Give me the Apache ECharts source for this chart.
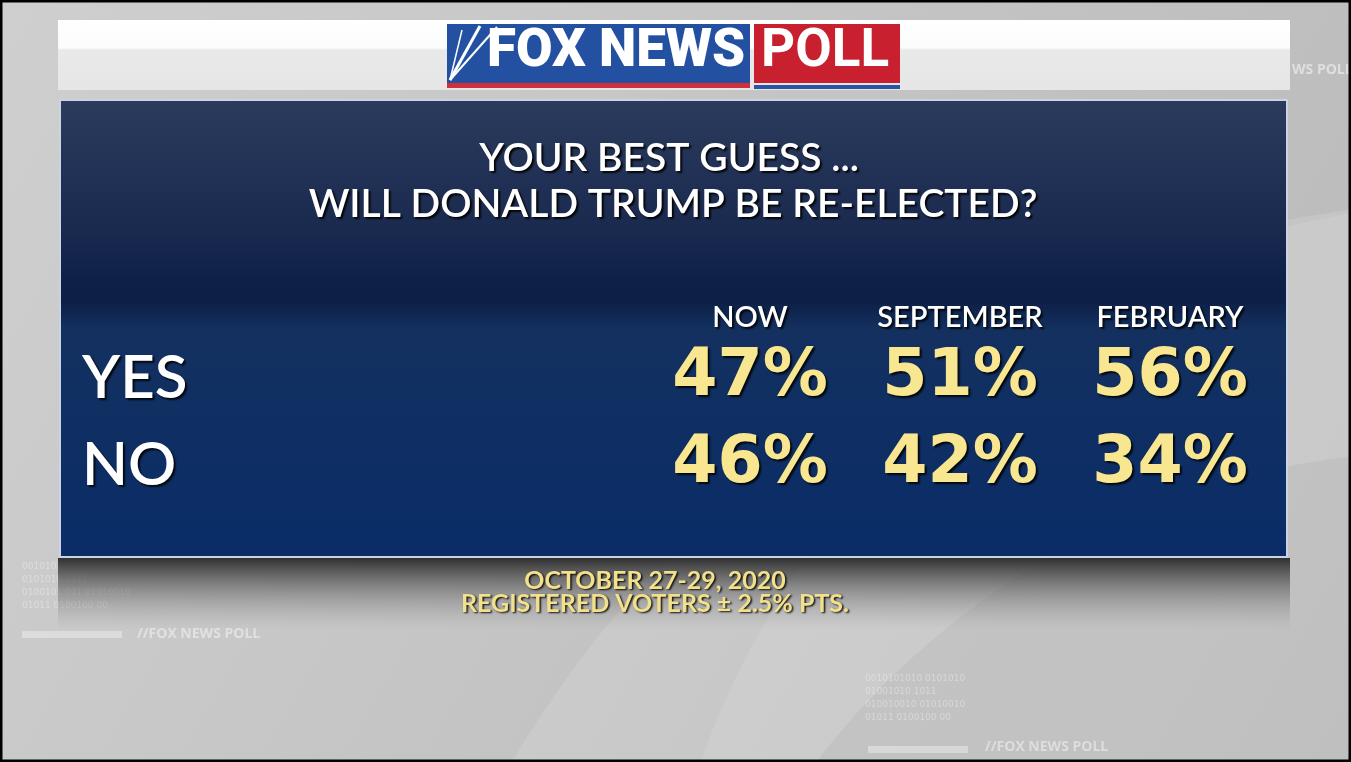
<!DOCTYPE html>
<html>
<head>
<meta charset="utf-8">
<script src="https://cdn.jsdelivr.net/npm/echarts@6/dist/echarts.min.js"></script>
<style>html,body{margin:0;padding:0;background:#c6c6c6;}#chart{width:1351px;height:762px;}</style>
</head>
<body>
<div id="chart"></div>
<script>
var columns = ['NOW', 'SEPTEMBER', 'FEBRUARY'];
var rows = ['YES', 'NO'];
var yesValues = [47, 51, 56];
var noValues = [46, 42, 34];
var titleLines = ['YOUR BEST GUESS ...', 'WILL DONALD TRUMP BE RE-ELECTED?'];
var footerLines = ['OCTOBER 27-29, 2020', 'REGISTERED VOTERS \u00B1 2.5% PTS.'];

var seriesData = [];
[yesValues, noValues].forEach(function (vals, r) {
  vals.forEach(function (v, c) { seriesData.push([columns[c], rows[r], v]); });
});

var chart = echarts.init(document.getElementById('chart'), null, {renderer: 'canvas'});
var shadow = {textShadowColor: 'rgba(0,0,0,0.85)', textShadowBlur: 2, textShadowOffsetX: 2, textShadowOffsetY: 2};

function centerText(txt, cx, top, font, fill, off, ls) {
  return {type: 'text', z: 5, x: cx, y: top, style: {text: txt, fill: fill, font: font, textAlign: 'center', textVerticalAlign: 'top',
    letterSpacing: ls || 0,
    textShadowColor: 'rgba(0,0,0,0.9)', textShadowOffsetX: off, textShadowOffsetY: off, textShadowBlur: 2}};
}

var graphics = [
  {type: 'rect', z: -10, shape: {x: 0, y: 0, width: 1351, height: 762},
    style: {fill: new echarts.graphic.LinearGradient(0, 0, 1, 1, [
      {offset: 0, color: '#cfcfcf'}, {offset: 0.5, color: '#c4c4c4'}, {offset: 1, color: '#b9b9b9'}])}},
  {type: 'circle', z: -9, shape: {cx: 1500, cy: 1350, r: 1150}, style: {fill: 'rgba(255,255,255,0.12)'}},
  {type: 'circle', z: -9, shape: {cx: 1450, cy: 1250, r: 800}, style: {fill: 'rgba(120,120,120,0.12)'}},
  {type: 'circle', z: -9, shape: {cx: 1500, cy: 1050, r: 850}, style: {fill: 'rgba(255,255,255,0.10)'}},
  {type: 'text', z: -8, left: 137, top: 627, style: {text: '//FOX NEWS POLL', fill: 'rgba(255,255,255,0.45)', font: 'bold 14px "Open Sans"'}},
  {type: 'text', z: -8, left: 985, top: 740, style: {text: '//FOX NEWS POLL', fill: 'rgba(255,255,255,0.45)', font: 'bold 14px "Open Sans"'}},
  {type: 'text', z: -8, left: 1292, top: 63, style: {text: 'WS POLL', fill: 'rgba(255,255,255,0.5)', font: 'bold 14px "Open Sans"'}},
  {type: 'text', z: -8, left: 22, top: 560, style: {text: '0010101\n0101010 1011\n0100101 001 01010010\n01011 0100100 00', fill: 'rgba(255,255,255,0.35)', font: '9px "DejaVu Sans"', lineHeight: 13}},
  {type: 'text', z: -8, left: 865, top: 672, style: {text: '0010101010 0101010\n01001010 1011\n010010010 01010010\n01011 0100100 00', fill: 'rgba(255,255,255,0.35)', font: '9px "DejaVu Sans"', lineHeight: 13}},
  {type: 'rect', z: -8, shape: {x: 22, y: 631, width: 100, height: 7}, style: {fill: 'rgba(255,255,255,0.35)'}},
  {type: 'rect', z: -8, shape: {x: 868, y: 746, width: 100, height: 7}, style: {fill: 'rgba(255,255,255,0.35)'}},
  {type: 'rect', z: -5, shape: {x: 58, y: 558, width: 1232, height: 72},
    style: {fill: new echarts.graphic.LinearGradient(0, 0, 0, 1, [
      {offset: 0, color: 'rgba(40,40,40,0.95)'}, {offset: 1, color: 'rgba(150,150,150,0)'}])}},
  {type: 'rect', z: -4, shape: {x: 58, y: 20, width: 1232, height: 70},
    style: {fill: new echarts.graphic.LinearGradient(0, 0, 0, 1, [
      {offset: 0, color: '#ffffff'}, {offset: 0.4, color: '#fbfbfb'}, {offset: 0.43, color: '#e9e9e9'}, {offset: 1, color: '#e6e6e6'}])}},
  {type: 'rect', z: -3, shape: {x: 447, y: 24, width: 303, height: 59}, style: {fill: '#2350a0'}},
  {type: 'rect', z: -3, shape: {x: 447, y: 83, width: 303, height: 5}, style: {fill: '#d0303a'}},
  {type: 'rect', z: -3, shape: {x: 754, y: 24, width: 146, height: 59}, style: {fill: '#c8202f'}},
  {type: 'rect', z: -3, shape: {x: 754, y: 85, width: 146, height: 4}, style: {fill: '#2a55a5'}},
  {type: 'polyline', z: -2, shape: {points: [[450, 80], [480, 26]]}, style: {stroke: '#ffffff', lineWidth: 3}},
  {type: 'polyline', z: -2, shape: {points: [[450, 80], [497, 27]]}, style: {stroke: '#ffffff', lineWidth: 2}},
  {type: 'polyline', z: -2, shape: {points: [[450, 80], [462, 30]]}, style: {stroke: '#ffffff', lineWidth: 1.5}},
  {type: 'text', z: -2, left: 487, top: 26, style: {text: 'FOX NEWS', fill: '#ffffff', font: '900 53px "Roboto"', letterSpacing: -2}},
  {type: 'text', z: -2, left: 761, top: 26, style: {text: 'POLL', fill: '#ffffff', font: '700 53px "Roboto"'}},
  {type: 'rect', z: -4, shape: {x: 59, y: 99, width: 1229, height: 459}, style: {fill: '#c9d3e4'}},
  {type: 'rect', z: -3, shape: {x: 61, y: 101, width: 1225, height: 455},
    style: {fill: new echarts.graphic.LinearGradient(0, 0, 0, 1, [
      {offset: 0, color: '#2b3b5d'}, {offset: 0.25, color: '#1c2c51'}, {offset: 0.4, color: '#0f2047'},
      {offset: 0.44, color: '#0d1f46'}, {offset: 0.5, color: '#13305f'}, {offset: 1, color: '#0a2d68'}])}},
  centerText(titleLines[0], 669, 139, '600 39px "Lato"', '#ffffff', 2, 2.6),
  centerText(titleLines[1], 673, 185, '600 39px "Lato"', '#ffffff', 2, 0.3),
  centerText(footerLines[0], 655, 568, 'bold 25px "Lato"', '#f3e08a', 1.5, 1.6),
  centerText(footerLines[1], 655, 591, 'bold 25px "Lato"', '#f3e08a', 1.5, 1.2),
  {type: 'rect', z: 20, shape: {x: 1, y: 1, width: 1349, height: 760}, style: {fill: 'none', stroke: '#000', lineWidth: 3}}
];

chart.setOption({
  backgroundColor: '#c6c6c6',
  animation: false,
  graphic: graphics,
  grid: {left: 645, right: 1351 - 1275, top: 335, height: 174},
  xAxis: {
    type: 'category', data: columns, position: 'top',
    axisLine: {show: false}, axisTick: {show: false}, splitLine: {show: false},
    axisLabel: Object.assign({interval: 0, color: '#ffffff', fontFamily: 'Lato', fontWeight: 600, fontSize: 29, margin: 3}, shadow)
  },
  yAxis: {
    type: 'category', data: rows, inverse: true,
    axisLine: {show: false}, axisTick: {show: false}, splitLine: {show: false},
    axisLabel: Object.assign({interval: 0, color: '#ffffff', fontFamily: 'Lato', fontWeight: 600, fontSize: 60, align: 'left', margin: 563}, shadow)
  },
  series: [{
    type: 'scatter', data: seriesData, symbolSize: 0,
    itemStyle: {color: '#f6e38c', opacity: 1},
    label: Object.assign({
      show: true, position: 'inside', color: '#f8e690', opacity: 1,
      fontFamily: 'DejaVu Sans', fontWeight: 'bold', fontSize: 65,
      formatter: function (p) { return p.value[2] + '%'; }
    }, shadow)
  }]
});
</script>
</body>
</html>
